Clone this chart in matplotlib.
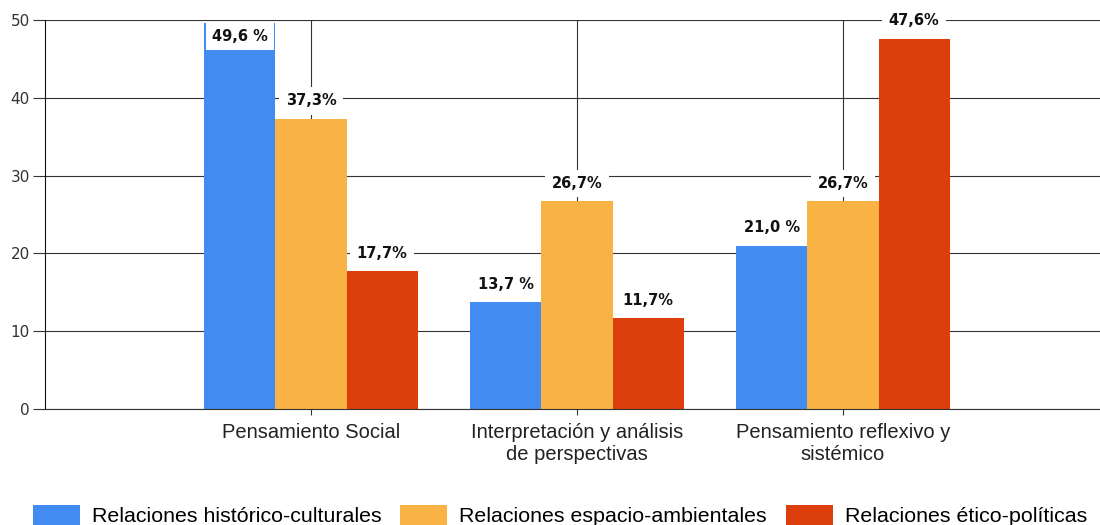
import matplotlib.pyplot as plt
import numpy as np

categories = ["Pensamiento Social", "Interpretación y análisis\nde perspectivas",
              "Pensamiento reflexivo y\nsistémico"]
series_names = ["Relaciones histórico-culturales", "Relaciones espacio-ambientales",
                "Relaciones ético-políticas"]
historico = [49.6, 13.7, 21.0]
espacio = [37.3, 26.7, 26.7]
etico = [17.7, 11.7, 47.6]
labels_historico = ["49,6 %", "13,7 %", "21,0 %"]
labels_espacio = ["37,3%", "26,7%", "26,7%"]
labels_etico = ["17,7%", "11,7%", "47,6%"]

colors = ["#428BF0", "#F9B344", "#DC3E0C"]

fig = plt.figure(figsize=(11, 5.25), dpi=100)
ax = fig.add_axes([45 / 1100, 1 - 409 / 525, 1 - 45 / 1100, (409 - 20) / 525])

x = np.arange(1, len(categories) + 1)
w = 0.267
all_vals = [historico, espacio, etico]
all_labels = [labels_historico, labels_espacio, labels_etico]
for i, (vals, labs) in enumerate(zip(all_vals, all_labels)):
    pos = x + (i - 1) * w
    ax.bar(pos, vals, width=w, color=colors[i], label=series_names[i], zorder=2)
    for p, v, t in zip(pos, vals, labs):
        y = v + 2.3
        if y > 50.5:
            y = 47.9
        ax.text(p, y, t, ha="center", va="center", fontsize=10.5, fontweight="bold",
                color="#111111", zorder=4,
                bbox=dict(facecolor="white", edgecolor="none", pad=4.5))

ax.set_xlim(0, (1100 - 45) / 266)
ax.set_ylim(0, 50)
ax.set_yticks([0, 10, 20, 30, 40, 50])
ax.set_xticks(x)
ax.set_xticklabels(categories, fontsize=14.5, color="#222222", family="Liberation Sans",
                   linespacing=1.2)
ax.tick_params(axis="y", length=9, width=0.8, color="#333333", labelsize=11,
               labelcolor="#333333", pad=2)
ax.tick_params(axis="x", length=4, width=0.8, color="#333333", pad=6)
ax.grid(True, color="#333333", linewidth=0.8)
ax.set_axisbelow(True)
for s in ["top", "right"]:
    ax.spines[s].set_visible(False)
ax.spines["left"].set_color("#111111")
ax.spines["bottom"].set_color("#333333")

fig.legend(loc="center", bbox_to_anchor=(0.509, 0.018), ncol=3, frameon=False,
           prop={"family": "Liberation Sans", "size": 15.4},
           handlelength=2.2, handleheight=1.1, handletextpad=0.56, columnspacing=0.89,
           borderpad=0.2)

fig.savefig("out.png", dpi=100)
